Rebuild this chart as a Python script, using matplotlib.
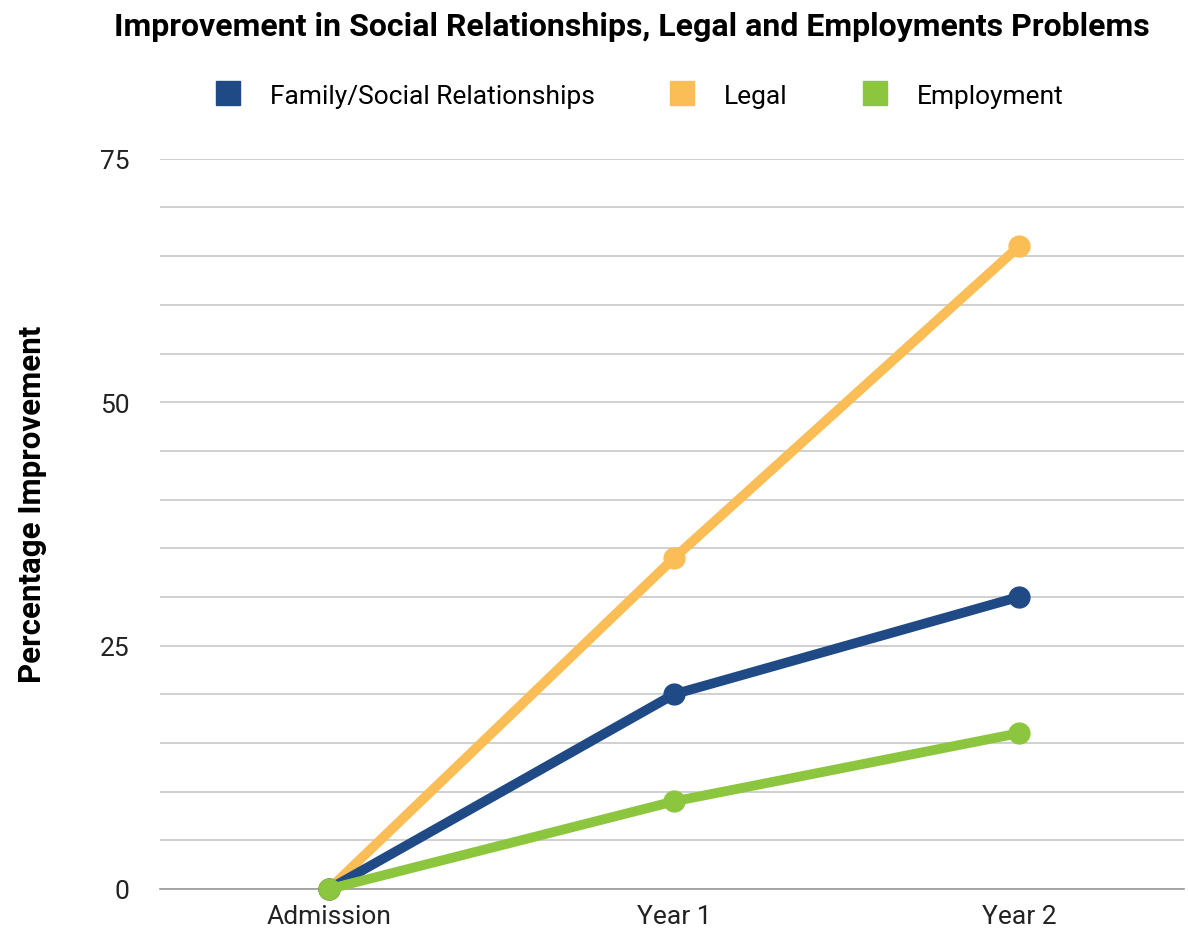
import matplotlib.pyplot as plt
from matplotlib.lines import Line2D

plt.rcParams['font.family'] = ['Roboto', 'DejaVu Sans']

stages = ['Admission', 'Year 1', 'Year 2']
family = [0, 20, 30]
legal = [0, 34, 66]
employment = [0, 9, 16]

c_family = '#1f4a86'
c_legal = '#fbbd55'
c_employ = '#8cc63f'

fig = plt.figure(figsize=(11.88, 9.29), dpi=100)
ax = fig.add_axes([0.135, 0.042, 0.862, 0.786])

x = range(len(stages))
ax.plot(x, legal, c=c_legal, lw=7, marker='o', ms=15, clip_on=False, zorder=3)
ax.plot(x, family, c=c_family, lw=7, marker='o', ms=15, clip_on=False, zorder=4)
ax.plot(x, employment, c=c_employ, lw=7, marker='o', ms=15, clip_on=False, zorder=5)

ax.set_xlim(-0.49, 2.48)
ax.set_ylim(0, 75)
ax.set_yticks([0, 25, 50, 75])
ax.set_yticks(range(0, 76, 5), minor=True)
ax.set_xticks(list(x))
ax.set_xticklabels(stages)
ax.grid(axis='y', which='both', color='#c8c8c8', lw=1.2)
ax.set_axisbelow(True)
ax.tick_params(axis='both', which='both', length=0, labelsize=19, colors='#222222')
ax.tick_params(axis='y', pad=22)
ax.tick_params(axis='x', pad=11)
for s in ['top', 'right', 'left']:
    ax.spines[s].set_visible(False)
ax.spines['bottom'].set_color('#999999')
ax.spines['bottom'].set_linewidth(1.2)

fig.text(0.532, 0.971, 'Improvement in Social Relationships, Legal and Employments Problems',
         ha='center', va='center', fontsize=23, fontweight='bold')
fig.text(0.027, 0.457, 'Percentage Improvement', rotation=90, ha='center', va='center',
         fontsize=22.5, fontweight='bold')

handles = [Line2D([], [], ls='', marker='s', ms=17, color=c) for c in [c_family, c_legal, c_employ]]
fig.legend(handles, ['Family/Social Relationships', 'Legal', 'Employment'],
           loc='center', bbox_to_anchor=(0.538, 0.896), ncol=3, frameon=False,
           fontsize=19, handletextpad=1.1, columnspacing=2.8, handlelength=1)

fig.savefig('out.png')
